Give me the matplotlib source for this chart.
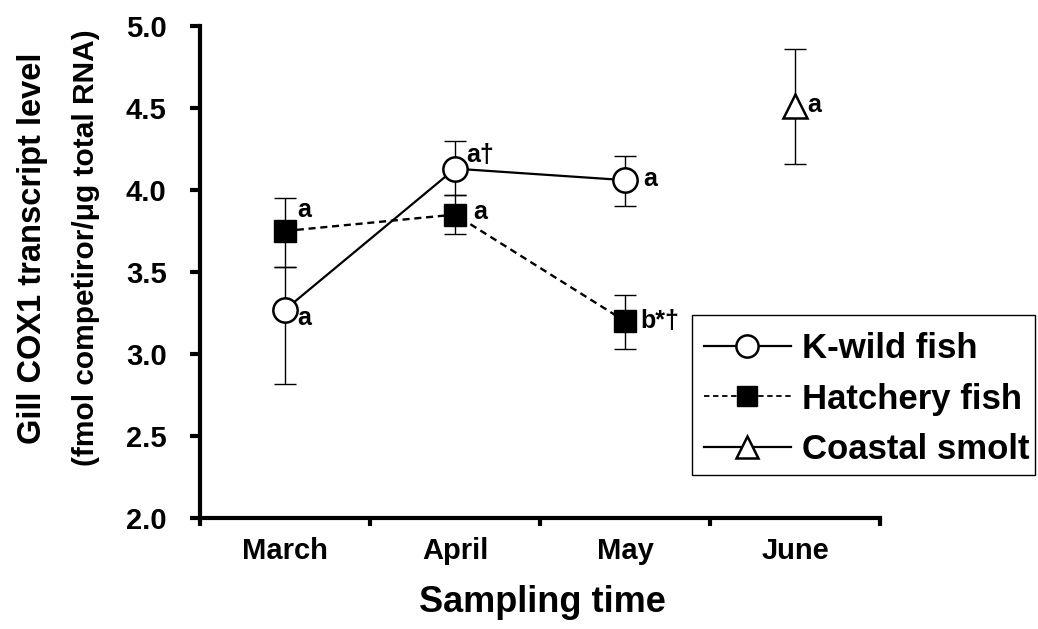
import matplotlib
matplotlib.use("Agg")
import matplotlib.pyplot as plt
from matplotlib.lines import Line2D
from matplotlib.patches import Rectangle
import numpy as np

months = ["March", "April", "May", "June"]

# K-wild fish (March-May)
wild_mean = [3.27, 4.13, 4.06]
wild_low = [2.82, 3.97, 3.90]
wild_high = [3.53, 4.30, 4.21]
wild_marks = ["a", "a\u2020", "a"]

# Hatchery fish (March-May)
hatch_mean = [3.75, 3.85, 3.20]
hatch_low = [3.53, 3.73, 3.03]
hatch_high = [3.95, 3.97, 3.36]
hatch_marks = ["a", "a", "b*\u2020"]

# Coastal smolt (June only)
coast_mean = [4.51]
coast_low = [4.16]
coast_high = [4.86]
coast_marks = ["a"]

plt.rcParams["font.family"] = ["Liberation Sans", "DejaVu Sans"]
plt.rcParams["font.weight"] = "bold"

W, H = 1038, 629
fig = plt.figure(figsize=(W / 100, H / 100), dpi=100)
ax = fig.add_axes([0.1927, 0.1765, 0.6551, 0.7822])

x_wild = np.arange(len(wild_mean))
x_hatch = np.arange(len(hatch_mean))
x_coast = np.array([3])


def draw_err(x, mean, low, high):
    mean = np.array(mean)
    yerr = [mean - np.array(low), np.array(high) - mean]
    ax.errorbar(x, mean, yerr=yerr, fmt="none", ecolor="black",
                elinewidth=1.0, capsize=8, capthick=1.0, zorder=2)


draw_err(x_wild, wild_mean, wild_low, wild_high)
draw_err(x_hatch, hatch_mean, hatch_low, hatch_high)
draw_err(x_coast, coast_mean, coast_low, coast_high)

ax.plot(x_hatch, hatch_mean, color="black", lw=1.7, ls=(0, (3, 2)),
        marker="s", ms=16, mfc="black", mec="black", zorder=3)
ax.plot(x_wild, wild_mean, color="black", lw=1.6, ls="-",
        marker="o", ms=17.5, mfc="white", mec="black", mew=1.8, zorder=4)
ax.plot(x_coast, coast_mean, color="black", lw=1.6, ls="none",
        marker="^", ms=17, mfc="white", mec="black", mew=1.8, zorder=4)

# significance letters
lab_kw = dict(textcoords="offset points", fontsize=18, fontweight="bold",
              ha="left", va="center")
wild_off = [(9, -6), (8, 10), (13, 1)]
hatch_off = [(9, 15), (13, 2), (11, 0)]
for xi, yi, t, o in zip(x_wild, wild_mean, wild_marks, wild_off):
    ax.annotate(t, (xi, yi), xytext=o, **lab_kw)
for xi, yi, t, o in zip(x_hatch, hatch_mean, hatch_marks, hatch_off):
    ax.annotate(t, (xi, yi), xytext=o, **lab_kw)
for xi, yi, t in zip(x_coast, coast_mean, coast_marks):
    ax.annotate(t, (xi, yi), xytext=(9, 1), **lab_kw)

ax.set_xlim(-0.5, 3.5)
ax.set_ylim(2.0, 5.0)
yt = np.arange(2.0, 5.01, 0.5)
ax.set_yticks(yt)
ax.set_yticklabels([f"{v:.1f}" for v in yt])
ax.set_xticks(np.arange(-0.5, 3.6, 1.0))
ax.set_xticklabels([])
ax.set_xticks(np.arange(len(months)), minor=True)
ax.set_xticklabels(months, minor=True)
ax.tick_params(axis="x", which="minor", length=0, pad=14, labelsize=21)
ax.tick_params(axis="x", which="major", length=6, width=3, direction="out")
ax.tick_params(axis="y", length=7, width=3, direction="out", pad=17,
               labelsize=21)
for lab in ax.get_xticklabels(minor=True) + ax.get_yticklabels():
    lab.set_fontweight("bold")

for s in ["top", "right"]:
    ax.spines[s].set_visible(False)
for s in ["left", "bottom"]:
    ax.spines[s].set_linewidth(3)

ylab_y = 1 - 248 / H
fig.text(33 / W, ylab_y, "Gill COX1 transcript level",
         rotation=90, ha="center", va="center", fontsize=23.5,
         fontweight="bold")
fig.text(86 / W, ylab_y, "(fmol competiror/\u03bcg total RNA)",
         rotation=90, ha="center", va="center", fontsize=21.5,
         fontweight="bold")
fig.text(542 / W, 1 - 602 / H, "Sampling time", ha="center",
         va="center", fontsize=26, fontweight="bold")

handles = [
    Line2D([], [], color="black", lw=1.6, marker="o", ms=16, mfc="white",
           mec="black", mew=1.8),
    Line2D([], [], color="black", lw=1.3, ls=(0, (3, 2)), marker="s", ms=14,
           mfc="black", mec="black"),
    Line2D([], [], color="black", lw=1.6, marker="^", ms=16, mfc="white",
           mec="black", mew=1.8),
]
fig.legend(handles, ["K-wild fish", "Hatchery fish", "Coastal smolt"],
           loc="center left", bbox_to_anchor=(704 / W, 1 - 399 / H),
           prop={"size": 25, "weight": "bold"}, frameon=False,
           handlelength=2.5, handletextpad=0.33, labelspacing=0.5,
           borderpad=0, borderaxespad=0)
fig.patches.append(Rectangle((692 / W, 1 - 475 / H), 343 / W, 160 / H,
                             transform=fig.transFigure, fill=False,
                             edgecolor="black", lw=1.0))

fig.savefig("out.png", dpi=100)
